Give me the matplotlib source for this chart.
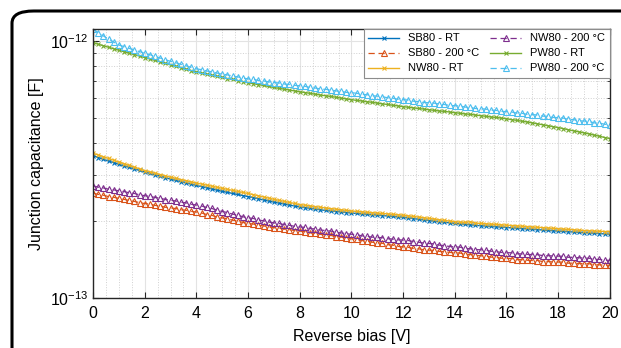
import matplotlib
matplotlib.use("Agg")
import matplotlib.pyplot as plt
import numpy as np
from matplotlib.patches import FancyBboxPatch
from matplotlib.ticker import FixedLocator, NullFormatter, MultipleLocator

plt.rcParams['font.family'] = ['Liberation Sans', 'DejaVu Sans']
plt.rcParams['mathtext.default'] = 'regular'

# Reverse bias [V], 0 to 20 V in 0.2 V steps
bias = [round(0.2 * i, 1) for i in range(101)]

# Junction capacitance in units of 1e-13 F
sb80_rt = [
    3.580, 3.520, 3.465, 3.410, 3.360, 3.310, 3.266, 3.222, 3.178, 3.134,
    3.090, 3.052, 3.014, 2.976, 2.938, 2.900, 2.868, 2.836, 2.804, 2.772,
    2.740, 2.712, 2.684, 2.656, 2.628, 2.600, 2.576, 2.552, 2.528, 2.504,
    2.480, 2.456, 2.432, 2.408, 2.384, 2.360, 2.340, 2.320, 2.300, 2.280,
    2.260, 2.246, 2.232, 2.218, 2.204, 2.190, 2.180, 2.170, 2.160, 2.150,
    2.140, 2.132, 2.124, 2.116, 2.108, 2.100, 2.092, 2.084, 2.076, 2.068,
    2.060, 2.048, 2.036, 2.024, 2.012, 2.000, 1.990, 1.980, 1.970, 1.960,
    1.950, 1.942, 1.934, 1.926, 1.918, 1.910, 1.904, 1.898, 1.892, 1.886,
    1.880, 1.874, 1.868, 1.862, 1.856, 1.850, 1.844, 1.838, 1.832, 1.826,
    1.820, 1.815, 1.810, 1.805, 1.800, 1.795, 1.790, 1.785, 1.780, 1.775,
    1.770]
sb80_200 = [
    2.560, 2.530, 2.510, 2.480, 2.465, 2.440, 2.420, 2.395, 2.375, 2.350,
    2.330, 2.318, 2.292, 2.280, 2.254, 2.240, 2.228, 2.205, 2.195, 2.172,
    2.160, 2.142, 2.112, 2.096, 2.066, 2.050, 2.034, 2.008, 1.994, 1.966,
    1.950, 1.940, 1.918, 1.908, 1.890, 1.880, 1.872, 1.852, 1.846, 1.828,
    1.820, 1.812, 1.792, 1.786, 1.768, 1.760, 1.752, 1.732, 1.726, 1.708,
    1.700, 1.692, 1.672, 1.666, 1.648, 1.640, 1.632, 1.612, 1.606, 1.588,
    1.580, 1.575, 1.558, 1.554, 1.540, 1.535, 1.532, 1.518, 1.515, 1.504,
    1.500, 1.496, 1.480, 1.476, 1.464, 1.460, 1.457, 1.442, 1.439, 1.428,
    1.425, 1.424, 1.410, 1.409, 1.402, 1.400, 1.399, 1.386, 1.386, 1.381,
    1.380, 1.379, 1.366, 1.366, 1.361, 1.360, 1.359, 1.346, 1.346, 1.341,
    1.340]
nw80_rt = [
    3.660, 3.600, 3.545, 3.490, 3.435, 3.380, 3.330, 3.280, 3.230, 3.180,
    3.130, 3.094, 3.058, 3.022, 2.986, 2.950, 2.920, 2.890, 2.860, 2.830,
    2.800, 2.774, 2.748, 2.722, 2.696, 2.670, 2.646, 2.622, 2.598, 2.574,
    2.550, 2.524, 2.498, 2.472, 2.446, 2.420, 2.398, 2.376, 2.354, 2.332,
    2.310, 2.296, 2.282, 2.268, 2.254, 2.240, 2.228, 2.216, 2.204, 2.192,
    2.180, 2.172, 2.164, 2.156, 2.148, 2.140, 2.132, 2.124, 2.116, 2.108,
    2.100, 2.088, 2.076, 2.064, 2.052, 2.040, 2.028, 2.016, 2.004, 1.992,
    1.980, 1.974, 1.968, 1.980, 1.956, 1.950, 1.944, 1.938, 1.932, 1.926,
    1.920, 1.914, 1.908, 1.902, 1.896, 1.890, 1.884, 1.878, 1.872, 1.866,
    1.860, 1.854, 1.848, 1.842, 1.836, 1.830, 1.826, 1.822, 1.818, 1.814,
    1.810]
nw80_200 = [
    2.730, 2.700, 2.680, 2.650, 2.635, 2.610, 2.595, 2.565, 2.550, 2.520,
    2.500, 2.485, 2.460, 2.445, 2.415, 2.400, 2.385, 2.360, 2.345, 2.315,
    2.300, 2.280, 2.250, 2.230, 2.195, 2.170, 2.150, 2.120, 2.100, 2.070,
    2.050, 2.040, 2.010, 1.998, 1.975, 1.960, 1.950, 1.928, 1.918, 1.900,
    1.890, 1.882, 1.862, 1.855, 1.838, 1.830, 1.822, 1.800, 1.792, 1.778,
    1.770, 1.765, 1.745, 1.738, 1.725, 1.720, 1.716, 1.700, 1.695, 1.684,
    1.680, 1.674, 1.656, 1.648, 1.636, 1.630, 1.624, 1.606, 1.598, 1.586,
    1.580, 1.577, 1.560, 1.555, 1.544, 1.540, 1.536, 1.520, 1.515, 1.504,
    1.500, 1.499, 1.486, 1.484, 1.478, 1.475, 1.474, 1.462, 1.461, 1.457,
    1.455, 1.453, 1.440, 1.438, 1.434, 1.430, 1.428, 1.412, 1.414, 1.404,
    1.400]
pw80_rt = [
    9.85, 9.71, 9.58, 9.45, 9.32, 9.20, 9.08, 8.96, 8.85, 8.73,
    8.62, 8.51, 8.40, 8.29, 8.18, 8.07, 7.97, 7.87, 7.77, 7.67,
    7.58, 7.50, 7.43, 7.35, 7.28, 7.21, 7.14, 7.08, 7.01, 6.95,
    6.88, 6.82, 6.76, 6.71, 6.65, 6.59, 6.54, 6.49, 6.44, 6.39,
    6.34, 6.30, 6.25, 6.21, 6.16, 6.12, 6.08, 6.04, 5.99, 5.95,
    5.91, 5.87, 5.84, 5.80, 5.77, 5.73, 5.69, 5.66, 5.62, 5.59,
    5.55, 5.52, 5.49, 5.46, 5.43, 5.40, 5.37, 5.34, 5.32, 5.29,
    5.26, 5.23, 5.20, 5.18, 5.15, 5.12, 5.09, 5.06, 5.04, 5.01,
    4.98, 4.94, 4.91, 4.87, 4.84, 4.80, 4.76, 4.72, 4.68, 4.64,
    4.60, 4.56, 4.51, 4.47, 4.43, 4.39, 4.35, 4.30, 4.26, 4.21,
    4.17]
pw80_200 = [
    11.10, 10.77, 10.46, 10.18, 9.90, 9.65, 9.50, 9.36, 9.22, 9.09,
    8.96, 8.84, 8.70, 8.58, 8.45, 8.33, 8.23, 8.11, 8.01, 7.89,
    7.79, 7.73, 7.64, 7.58, 7.50, 7.43, 7.38, 7.30, 7.25, 7.17,
    7.12, 7.09, 7.02, 6.99, 6.93, 6.89, 6.86, 6.80, 6.77, 6.72,
    6.69, 6.66, 6.59, 6.56, 6.50, 6.48, 6.45, 6.39, 6.37, 6.31,
    6.29, 6.26, 6.20, 6.18, 6.12, 6.10, 6.07, 6.01, 5.99, 5.93,
    5.91, 5.89, 5.83, 5.81, 5.76, 5.75, 5.73, 5.68, 5.66, 5.61,
    5.60, 5.58, 5.53, 5.51, 5.46, 5.45, 5.43, 5.38, 5.37, 5.32,
    5.31, 5.29, 5.24, 5.23, 5.18, 5.17, 5.15, 5.10, 5.09, 5.04,
    5.03, 5.01, 4.95, 4.94, 4.89, 4.88, 4.86, 4.80, 4.79, 4.74,
    4.73]

labels = ["SB80 - RT", "SB80 - 200 °C", "NW80 - RT",
          "NW80 - 200 °C", "PW80 - RT", "PW80 - 200 °C"]
series = [sb80_rt, sb80_200, nw80_rt, nw80_200, pw80_rt, pw80_200]
colors = ["#0072BD", "#D95319", "#EDB120", "#7E2F8E", "#77AC30", "#4DBEEE"]
is_hot = [False, True, False, True, False, True]
y_major = [1e-13, 1e-12]
y_minor = [2e-13, 3e-13, 4e-13, 5e-13, 6e-13, 7e-13, 8e-13, 9e-13]
unit = 1e-13

fig = plt.figure(figsize=(6.21, 3.48), dpi=100)
ax = fig.add_axes([0.1498, 0.1437, 0.8322, 0.7730])

x = np.array(bias)
for vals, lab, c, hot in zip(series, labels, colors, is_hot):
    y = np.array(vals) * unit
    if hot:
        ax.plot(x, y, linestyle=(0, (5, 3)), color=c, linewidth=0.9,
                marker='^', markersize=4.2, markeredgewidth=0.8,
                markerfacecolor='none', markeredgecolor=c, label=lab)
    else:
        ax.plot(x, y, linestyle='-', color=c, linewidth=1.0,
                marker='x', markersize=2.5, markeredgewidth=0.8,
                label=lab)

ax.set_yscale('log')
ax.set_xlim(0, 20)
ax.set_ylim(1e-13, 1.113e-12)
ax.xaxis.set_major_locator(MultipleLocator(2))
ax.xaxis.set_minor_locator(MultipleLocator(0.5))
ax.yaxis.set_major_locator(FixedLocator(y_major))
ax.yaxis.set_minor_locator(FixedLocator(y_minor))
ax.yaxis.set_minor_formatter(NullFormatter())

ax.grid(which='major', color='#e3e3e3', linestyle='-', linewidth=0.8)
ax.grid(which='minor', color='#d0d0d0', linestyle=':', linewidth=0.7)
ax.set_axisbelow(True)

ax.tick_params(which='both', direction='in', top=True, right=True,
               labelsize=11.5, colors='#262626', labelcolor='black')
ax.tick_params(which='major', length=4.5, width=0.8)
ax.tick_params(which='minor', length=2.5, width=0.6)
ax.tick_params(axis='x', which='minor', length=0)
ax.tick_params(axis='x', which='major', pad=5.5)
for s in ax.spines.values():
    s.set_linewidth(1.0)
    s.set_color('#262626')

ax.set_xlabel("Reverse bias [V]", fontsize=11.5, labelpad=6)
ax.set_ylabel("Junction capacitance [F]", fontsize=11.5, labelpad=4)

leg = ax.legend(loc='upper right', ncol=2, fontsize=8, frameon=True,
                fancybox=False, edgecolor='#8c8c8c', framealpha=1,
                borderaxespad=0, handlelength=2.8, columnspacing=1.0,
                labelspacing=0.45, borderpad=0.4, handletextpad=0.8)
leg.get_frame().set_linewidth(0.8)

frame = FancyBboxPatch((12 / 621, -0.1), 1.2, 1 - 11 / 348 + 0.1,
                       boxstyle="round,pad=0,rounding_size=0.035",
                       transform=fig.transFigure, fill=False,
                       edgecolor='black', linewidth=2.2, clip_on=False)
fig.patches.append(frame)

fig.savefig("out.png", dpi=100)
